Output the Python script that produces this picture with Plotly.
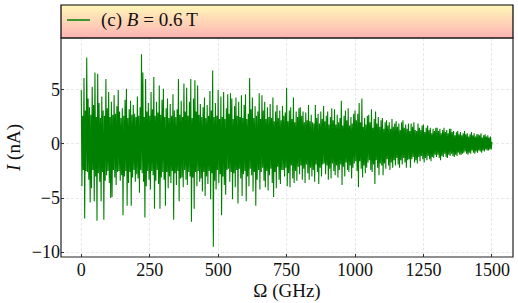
import plotly.graph_objects as go

# ---- data ----
omega_step_GHz = 2.5
current_nA = [
    5.0, -3.9, 2.6, -2.4, 6.1, -6.9, 3.1, -2.5, 8.0, -2.6, 4.2, -3.3, 3.4, -5.4, 2.7, -4.1, 5.3, -2.4, 3.6, -5.3,
    6.6, -3.0, 2.5, -7.1, 6.5, -2.7, 3.8, -3.5, 2.4, -5.3, 4.4, -2.6, 3.1, -7.0, 2.6, -3.4, 6.0, -2.9, 3.3, -2.5,
    4.8, -3.6, 2.5, -5.0, 3.9, -4.9, 2.7, -2.4, 4.5, -3.1, 2.8, -3.8, 3.5, -2.6, 5.0, -2.5, 3.0, -3.4, 2.4, -2.9,
    3.3, -6.6, 2.6, -3.0, 4.1, -2.5, 5.1, -5.7, 2.4, -3.6, 3.2, -2.6, 4.0, -5.7, 2.7, -3.1, 3.6, -2.4, 2.8, -3.5,
    2.5, -2.8, 4.4, -3.2, 2.6, -4.5, 3.4, -2.4, 8.3, -2.7, 6.6, -3.5, 2.5, -6.8, 6.0, -3.9, 3.0, -2.5, 3.8, -3.3,
    2.6, -4.2, 4.8, -2.5, 3.2, -2.9, 6.2, -6.0, 2.6, -3.4, 3.9, -2.4, 2.9, -3.7, 5.4, -6.0, 2.7, -3.1, 4.1, -2.6,
    5.1, -3.3, 2.5, -5.7, 3.3, -2.6, 4.2, -4.1, 2.4, -3.0, 3.7, -3.6, 2.6, -2.5, 4.6, -7.0, 3.1, -2.7, 2.5, -3.8,
    3.2, -2.5, 6.0, -5.3, 2.7, -3.2, 4.0, -3.1, 2.5, -4.0, 5.6, -2.4, 3.0, -3.3, 5.2, -3.8, 2.6, -2.6, 3.9, -3.0,
    6.0, -7.2, 2.4, -3.1, 4.2, -6.0, 5.9, -2.6, 3.0, -3.9, 5.4, -2.5, 2.7, -3.5, 3.7, -3.2, 2.5, -4.4, 3.4, -2.6,
    4.3, -4.8, 2.4, -3.0, 3.6, -3.7, 2.6, -2.5, 4.9, -5.1, 3.1, -2.7, 6.8, -9.5, 2.5, -3.4, 3.8, -4.2, 2.6, -2.4,
    5.0, -3.6, 2.3, -2.8, 4.4, -6.6, 2.5, -3.0, 4.8, -3.8, 2.3, -4.7, 3.3, -2.4, 4.6, -2.3, 2.8, -3.5, 4.7, -2.6,
    4.2, -5.1, 2.3, -2.7, 3.5, -4.0, 4.3, -2.4, 2.6, -5.5, 3.9, -2.3, 2.5, -3.2, 4.5, -4.8, 2.4, -2.8, 3.6, -2.5,
    4.6, -5.3, 2.3, -3.0, 2.8, -3.9, 6.1, -2.3, 3.2, -2.9, 4.3, -4.4, 2.4, -2.6, 3.5, -5.7, 2.6, -3.3, 3.0, -2.4,
    4.7, -4.2, 2.3, -2.6, 4.5, -2.2, 3.1, -3.4, 3.9, -4.0, 2.3, -2.5, 3.4, -4.3, 2.5, -2.9, 3.7, -2.3, 2.4, -3.6,
    4.3, -4.9, 2.1, -2.6, 3.0, -4.1, 3.6, -2.1, 2.4, -3.3, 3.1, -3.7, 2.2, -2.4, 3.5, -2.4, 2.6, -3.0, 2.9, -2.2,
    5.2, -3.9, 2.1, -2.7, 3.1, -4.0, 3.4, -2.0, 2.3, -3.2, 4.3, -3.6, 2.0, -2.5, 3.0, -3.4, 2.5, -2.1, 3.3, -2.8,
    3.4, -2.0, 2.6, -3.3, 3.0, -2.3, 2.0, -3.6, 2.9, -1.9, 2.2, -2.7, 3.6, -3.3, 2.1, -2.2, 2.7, -3.0, 2.0, -2.4,
    1.9, -3.5, 3.6, -1.9, 2.4, -2.6, 2.8, -3.7, 1.9, -2.2, 3.0, -3.0, 2.3, -1.9, 3.5, -1.8, 2.1, -2.8, 2.6, -2.0,
    3.0, -3.3, 1.8, -2.3, 2.5, -3.2, 3.3, -1.8, 2.2, -2.5, 3.2, -2.9, 1.8, -2.0, 2.7, -3.1, 2.0, -2.4, 2.4, -1.9,
    4.0, -3.8, 1.7, -2.1, 2.6, -3.0, 3.1, -1.7, 2.2, -2.4, 3.3, -2.6, 1.7, -2.0, 2.5, -3.2, 1.9, -2.2, 2.8, -1.8,
    3.1, -1.6, 2.2, -2.5, 2.8, -4.0, 3.8, -1.6, 2.0, -2.3, 4.2, -3.1, 1.6, -2.0, 2.4, -2.7, 1.8, -2.2, 2.6, -1.7,
    2.7, -1.5, 2.0, -2.4, 3.2, -2.6, 1.5, -1.9, 2.3, -3.7, 3.0, -1.5, 1.9, -2.2, 2.5, -2.9, 1.6, -1.8, 2.2, -2.0,
    2.4, -2.9, 1.4, -1.8, 2.0, -2.3, 2.2, -1.4, 1.7, -2.0, 2.0, -2.4, 1.4, -1.7, 2.3, -2.2, 1.6, -1.5, 1.9, -2.0,
    2.1, -1.3, 1.6, -1.9, 1.9, -2.2, 1.3, -1.5, 2.0, -1.9, 2.2, -1.3, 1.5, -1.7, 1.8, -2.2, 1.4, -1.5, 1.9, -1.4,
    1.2, -2.2, 1.9, -1.4, 1.6, -1.2, 2.0, -1.7, 1.3, -1.5, 1.2, -1.8, 1.9, -1.2, 1.5, -1.6, 1.3, -1.1, 1.7, -1.4,
    1.8, -1.7, 1.1, -1.3, 1.5, -1.5, 1.7, -1.1, 1.3, -1.4, 1.5, -1.6, 1.0, -1.2, 1.4, -1.3, 1.2, -1.0, 1.5, -1.2,
    1.5, -1.0, 1.2, -1.3, 1.4, -1.5, 1.0, -1.1, 1.3, -1.2, 1.5, -0.9, 1.1, -1.2, 1.3, -1.3, 1.0, -1.0, 1.4, -1.1,
    1.4, -0.9, 1.1, -1.1, 1.2, -1.2, 0.8, -1.0, 1.1, -1.1, 1.2, -0.8, 0.9, -1.0, 1.1, -1.0, 0.8, -0.9, 1.0, -0.8,
    1.2, -0.7, 0.9, -0.9, 1.0, -1.0, 0.7, -0.8, 0.9, -0.9, 1.1, -0.6, 0.8, -0.8, 1.0, -0.9, 0.7, -0.7, 0.9, -0.8,
    0.9, -0.6, 0.8, -0.7, 1.0, -0.8, 0.6, -0.6, 0.8, -0.7, 0.9, -0.5, 0.7, -0.6, 0.8, -0.6, 0.6, -0.5, 0.7, -0.5,
    0.2,
]
omega_GHz = [i * omega_step_GHz for i in range(len(current_nA))]

x_ticks = [0, 250, 500, 750, 1000, 1250, 1500]
x_ticktext = ["0", "250", "500", "750", "1000", "1250", "1500"]
y_ticks = [-10, -5, 0, 5]
y_ticktext = ["\u221210", "\u22125", "0", "5"]
legend_label = "(c) <i>B</i> = 0.6\u2009T"

# ---- layout constants ----
W, H = 518, 303
ML, MR, MT, MB = 61, 5, 38, 46
PW = W - ML - MR
PH = H - MT - MB
BAND_TOP_PX = 5
FONT = "Liberation Serif"
GREEN = "#008000"
GRID = "#e8e8e8"

fig = go.Figure()
fig.add_trace(go.Scatter(
    x=omega_GHz, y=current_nA, mode="lines",
    line=dict(color=GREEN, width=1.1, simplify=False),
    name="(c) B = 0.6 T", showlegend=False,
))

# gradient title band (yellow top -> pink bottom)
band_h = MT - BAND_TOP_PX
top_rgb = (255, 246, 184)
bot_rgb = (255, 180, 180)
shapes = []
n = band_h
for i in range(n):
    t = i / (n - 1)
    c = tuple(int(round(top_rgb[k] + (bot_rgb[k] - top_rgb[k]) * t)) for k in range(3))
    y1 = 1 + (band_h - i) / PH
    y0 = 1 + (band_h - i - 1) / PH
    shapes.append(dict(type="rect", xref="paper", yref="paper", x0=0, x1=1,
                       y0=y0, y1=y1 + 0.0005, line=dict(width=0),
                       fillcolor="rgb(%d,%d,%d)" % c, layer="below"))
shapes.append(dict(type="rect", xref="paper", yref="paper", x0=0, x1=1,
                   y0=1, y1=1 + band_h / PH, line=dict(color="black", width=1.2)))
shapes.append(dict(type="rect", xref="paper", yref="paper", x0=0, x1=1,
                   y0=0, y1=1, line=dict(color="#222222", width=1.2)))
# legend sample line inside the band
leg_y = 1 + (MT - 20) / PH
shapes.append(dict(type="line", xref="paper", yref="paper",
                   x0=(67 - ML) / PW, x1=(90 - ML) / PW, y0=leg_y, y1=leg_y,
                   line=dict(color=GREEN, width=1.5)))

fig.update_layout(
    width=W, height=H,
    margin=dict(l=ML, r=MR, t=MT, b=MB, autoexpand=False),
    paper_bgcolor="white", plot_bgcolor="white",
    font=dict(family=FONT, size=17, color="#111111"),
    shapes=shapes,
    showlegend=False,
    annotations=[dict(text=legend_label, xref="paper", yref="paper",
                      x=(99 - ML) / PW, y=leg_y, xanchor="left", yanchor="middle",
                      showarrow=False, font=dict(family=FONT, size=19, color="#111111"))],
)
fig.update_xaxes(
    range=[-74, 1577], tickvals=x_ticks, ticktext=x_ticktext, automargin=False,
    showgrid=True, gridcolor=GRID, griddash="3px,2px", gridwidth=0.8,
    ticks="inside", ticklen=3, tickcolor="#333333", zeroline=False,
    showline=False, title=dict(text="\u03a9 (GHz)", standoff=2,
                               font=dict(family=FONT, size=19)),
    tickfont=dict(family=FONT, size=18),
)
fig.update_yaxes(
    range=[-10.45, 9.8], tickvals=y_ticks, ticktext=y_ticktext, automargin=False,
    showgrid=True, gridcolor=GRID, griddash="3px,2px", gridwidth=0.8,
    ticks="inside", ticklen=3, tickcolor="#333333", zeroline=False,
    showline=False, title=dict(text="<i>I</i> (nA)", standoff=6,
                               font=dict(family=FONT, size=19)),
    tickfont=dict(family=FONT, size=18),
)

fig.write_html("out.html", config={"displayModeBar": False},
               post_script="document.body.style.margin='0px';")
